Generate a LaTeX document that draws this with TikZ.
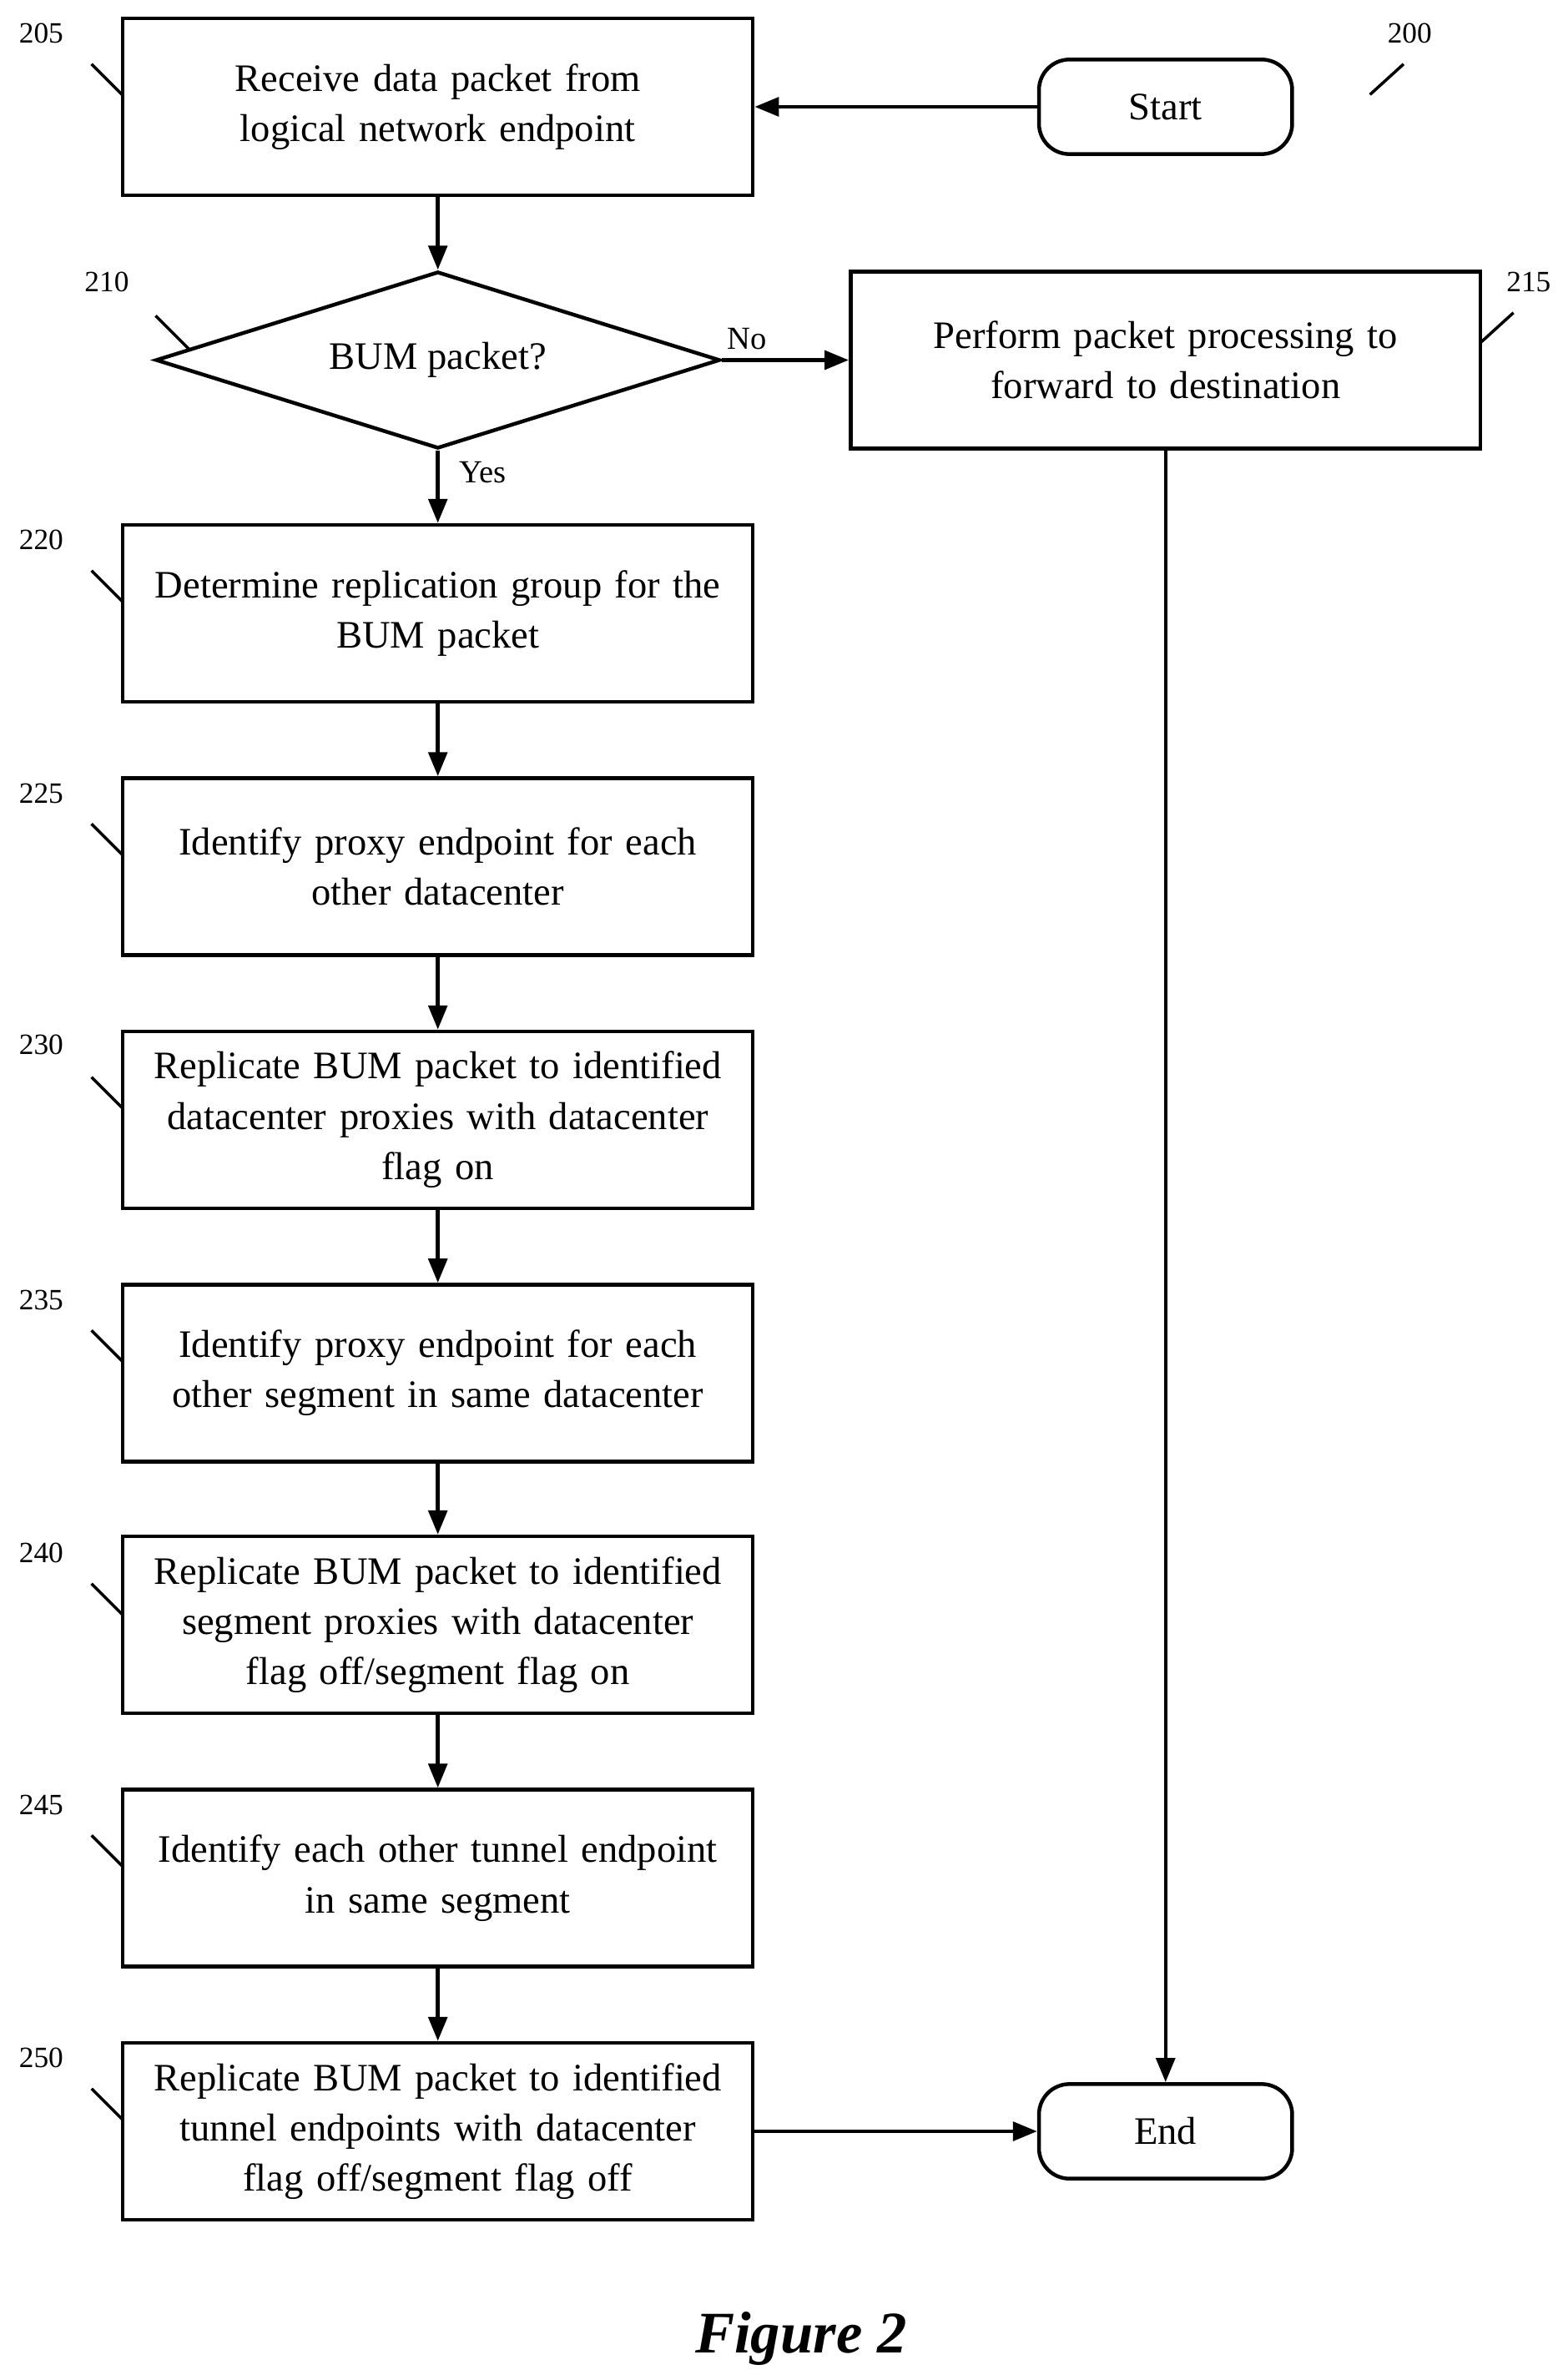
\documentclass[tikz,border=0pt]{standalone}
\usepackage{fontspec}
\setmainfont{Liberation Serif}
\usetikzlibrary{shapes.geometric,arrows.meta}
\begin{document}
\begin{tikzpicture}[x=0.02cm,y=-0.02cm,
  box/.style={draw,line width=1.4pt,minimum width=8.26cm,minimum height=2.32cm,align=center,font=\fontsize{14.5}{18.8}\selectfont,text width=8cm,inner sep=0pt},
  term/.style={draw,line width=1.4pt,rounded corners=0.4cm,minimum width=3.32cm,minimum height=1.24cm,font=\fontsize{14.5}{18.8}\selectfont},
  num/.style={font=\fontsize{11}{13}\selectfont},
  arr/.style={line width=1.4pt,-{Triangle[length=9pt,width=7pt]}},
  tick/.style={line width=1.1pt}]
\useasboundingbox (0,0) rectangle (1024,1560);
\node[box] (b205) at (287,70) {Receive data packet from\\logical network endpoint};
\node[term] (start) at (764,70) {Start};
\node[draw,line width=1.4pt,diamond,aspect=3.19,minimum width=7.4cm,minimum height=2.32cm,inner sep=0pt,font=\fontsize{14.5}{18.8}\selectfont] (d210) at (287,236) {BUM packet?};
\node[box] (b215) at (764,236) {Perform packet processing to\\forward to destination};
\node[box] (b220) at (287,402) {Determine replication group for the\\BUM packet};
\node[box] (b225) at (287,568) {Identify proxy endpoint for each\\other datacenter};
\node[box] (b230) at (287,734) {Replicate BUM packet to identified\\datacenter proxies with datacenter\\flag on};
\node[box] (b235) at (287,900) {Identify proxy endpoint for each\\other segment in same datacenter};
\node[box] (b240) at (287,1065) {Replicate BUM packet to identified\\segment proxies with datacenter\\flag off/segment flag on};
\node[box] (b245) at (287,1231) {Identify each other tunnel endpoint\\in same segment};
\node[box] (b250) at (287,1397) {Replicate BUM packet to identified\\tunnel endpoints with datacenter\\flag off/segment flag off};
\node[term] (end) at (764,1397) {End};
\node[font=\fontsize{22}{26}\selectfont\bfseries\itshape] (fig) at (525,1533) {Figure 2};
\draw[arr] (start) -- (b205);
\draw[arr] (b205) -- (d210);
\draw[arr] (d210) -- node[pos=0.2,above,font=\fontsize{12}{14}\selectfont]{No} (b215);
\draw[arr] (d210) -- node[pos=0.3,right=4pt,font=\fontsize{12}{14}\selectfont]{Yes} (b220);
\draw[arr] (b220) -- (b225);
\draw[arr] (b225) -- (b230);
\draw[arr] (b230) -- (b235);
\draw[arr] (b235) -- (b240);
\draw[arr] (b240) -- (b245);
\draw[arr] (b245) -- (b250);
\draw[arr] (b215) -- (end);
\draw[arr] (b250) -- (end);
\foreach \n/\x/\y in {205/27/22,210/70/185,220/27/354,225/27/520,230/27/685,235/27/852,240/27/1018,245/27/1183,250/27/1349,200/924/22,215/1002/185}
  \node[num] (l\n) at (\x,\y) {\n};
\foreach \y in {42,374,540,706,872,1038,1203,1369}
  \draw[tick] (60,\y) -- (80,\y+20);
\draw[tick] (102,207) -- (124,229);
\draw[tick] (898,62) -- (920,42);
\draw[tick] (970,225) -- (992,205);
\end{tikzpicture}
\end{document}
